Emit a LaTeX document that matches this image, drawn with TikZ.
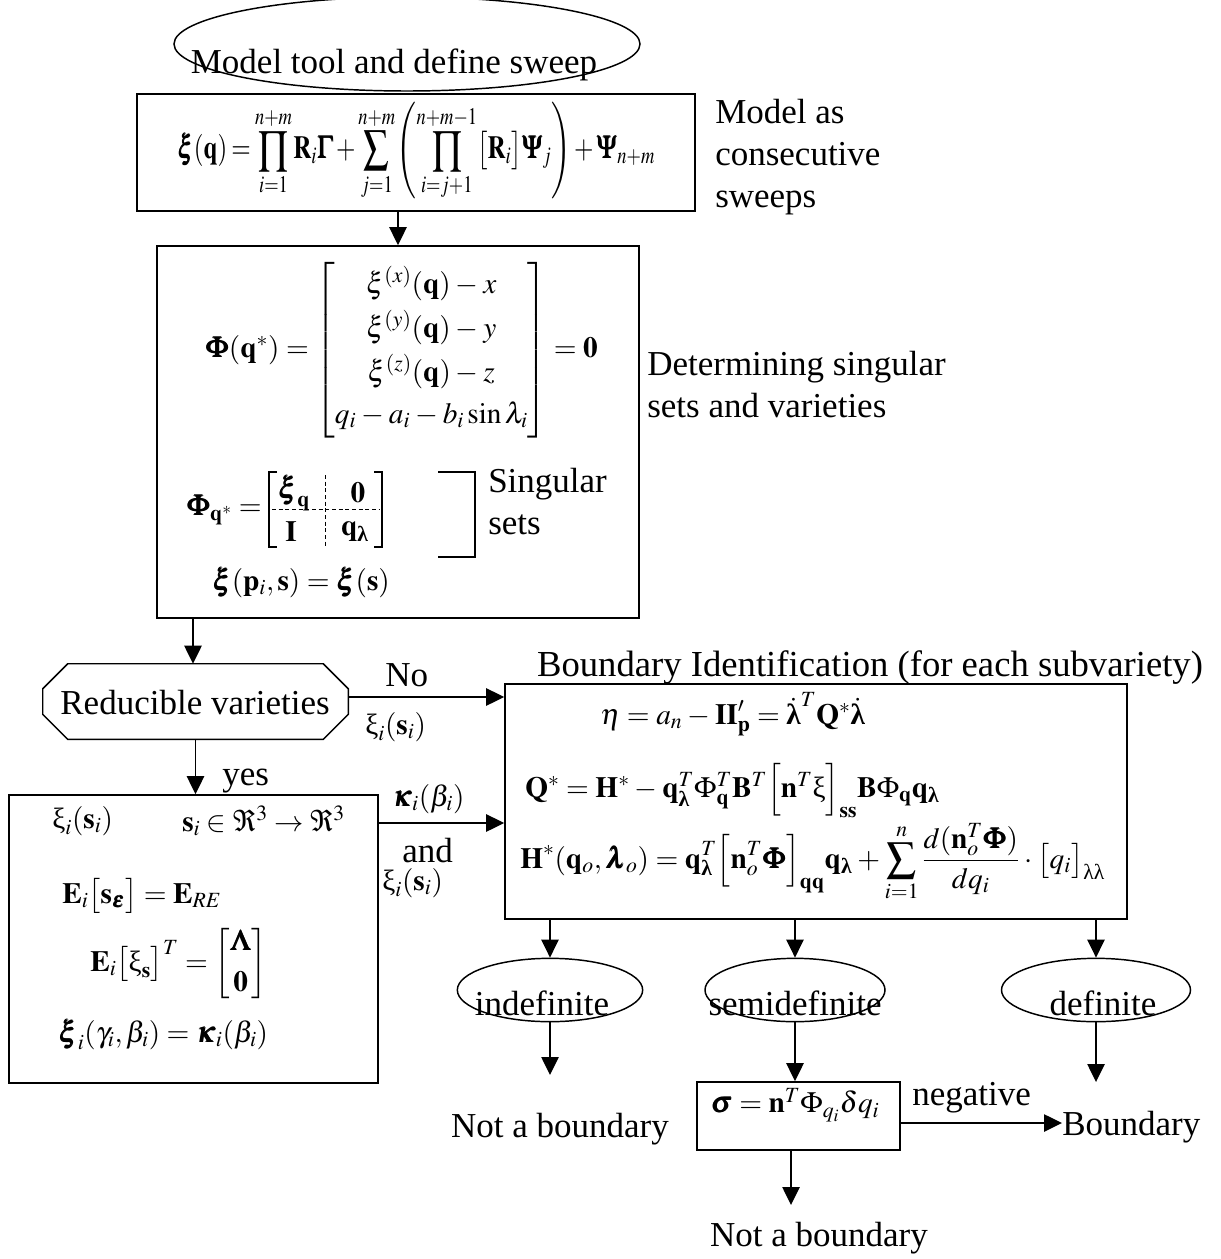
\documentclass[tikz,border=0pt]{standalone}
\usepackage{amsmath}
\usepackage{mathptmx}
\usepackage{bm}
\usepackage{graphicx}
\usepackage[no-math]{fontspec}
\setmainfont{Liberation Serif}
\usetikzlibrary{arrows.meta,shapes.geometric,fit,calc}
\newcommand{\uxi}{\text{ξ}}
\newcommand{\blam}{\text{\bfseries λ}}
\newcommand{\tightmath}{\medmuskip=3mu\relax\thickmuskip=4mu\relax\thinmuskip=2mu\relax}
\newcommand{\tightermath}{\medmuskip=2mu\relax\thickmuskip=3mu\relax\thinmuskip=1mu\relax}
\begin{document}
\begin{tikzpicture}[x=0.75pt,y=-0.75pt,
  every node/.style={font=\fontsize{26.25}{31.5}\selectfont, inner sep=0pt},
  mth/.style={font=\fontsize{22}{26.4}\selectfont\tightmath},
  frame/.style={draw, line width=1.2pt, inner sep=0pt},
  arr/.style={-{Triangle[length=13.5pt,width=13pt]}, line width=1.1pt},
  lbl/.style={anchor=base},
  lblw/.style={anchor=base west},
  oval/.style={draw, ellipse, line width=1.1pt, inner sep=0pt},
  thin/.style={line width=1.1pt},
  dsh/.style={line width=0.6pt, dash pattern=on 3pt off 2pt}]
\useasboundingbox (0,0) rectangle (1220,1259);

% top ellipse
\node[oval, minimum width=349.5pt, minimum height=70.5pt] (startov) at (407,44) {};
\node[lbl] (start) at (394,74) {Model tool and define sweep};

% box 1
\node[frame, fit={(137,94)(695,211)}] (b1) {};
\node[lblw, font=\fontsize{26.25}{31.5}\selectfont\tightermath] (f1) at (177,159) {\scalebox{0.715}[0.92]{$\displaystyle \bm{\xi}(\mathbf{q}) = \prod_{i=1}^{n+m}\mathbf{R}_i\bm{\Gamma} + \sum_{j=1}^{n+m}\left(\prod_{i=j+1}^{n+m-1}\bigl[\mathbf{R}_i\bigr]\bm{\Psi}_j\right) + \bm{\Psi}_{n+m}$}};
\node[anchor=west, align=left] (t1) at (715,157) {Model as\\consecutive\\sweeps};

% box 2
\node[frame, fit={(157,246)(639,618)}] (b2) {};
\node[anchor=west, mth] (f2) at (205,350) {$\bm{\Phi}(\mathbf{q}^{*}) = \begin{bmatrix} \xi^{(x)}(\mathbf{q}) - x\\[5pt] \xi^{(y)}(\mathbf{q}) - y\\[5pt] \xi^{(z)}(\mathbf{q}) - z\\[5pt] q_i - a_i - b_i\sin\lambda_i \end{bmatrix} = \mathbf{0}$};
\node[anchor=west, align=left] (t2) at (647,385) {Determining singular\\sets and varieties};

% Phi_q* matrix drawn piecewise
\node[anchor=east, mth] (f3) at (262,510) {$\bm{\Phi}_{\mathbf{q}^{*}} =$};
\node[mth] (m11) at (294,493) {$\bm{\xi}_{\mathbf{q}}$};
\node[mth] (m12) at (358,493) {$\mathbf{0}$};
\node[mth] (m21) at (291,532) {$\mathbf{I}$};
\node[mth] (m22) at (355,532) {$\mathbf{q}_{\blam}$};
\draw[thin] (277,472) -- (269,472) -- (269,547) -- (277,547);
\draw[thin] (374,472) -- (382,472) -- (382,547) -- (374,547);
\draw[dsh] (272,509) -- (379,509);
\draw[dsh] (325,475) -- (325,547);

\draw[thin] (438,472) -- (475,472) -- (475,557) -- (438,557);
\node[anchor=west, align=left] (t3) at (488,502) {Singular\\sets};
\node[lblw, mth] (f4) at (212,590) {$\bm{\xi}(\mathbf{p}_i,\mathbf{s}) = \bm{\xi}(\mathbf{s})$};

% octagon
\node[fit={(43,664)(348,739)}] (oct) {};
\draw[thin] ($(oct.north west)+(25,0)$) -- ($(oct.north east)+(-25,0)$) -- ($(oct.north east)+(0,25)$) -- ($(oct.south east)+(0,-25)$) -- ($(oct.south east)+(-25,0)$) -- ($(oct.south west)+(25,0)$) -- ($(oct.south west)+(0,-25)$) -- ($(oct.north west)+(0,25)$) -- cycle;
\node[lbl] (red) at (195,714) {Reducible varieties};

% box 3
\node[frame, fit={(505,684)(1127,919)}] (b3) {};
\node[lbl, font=\fontsize{27.5}{33}\selectfont] (t4) at (870,676) {Boundary Identification (for each subvariety)};
\node[lblw, mth] (f5) at (600,724) {$\eta = a_n - \mathbf{II}'_{\mathbf{p}} = \dot{\blam}^{T}\mathbf{Q}^{*}\dot{\blam}$};
\node[lblw, mth] (f6) at (525,797) {$\mathbf{Q}^{*} = \mathbf{H}^{*} - \mathbf{q}_{\blam}^{T}\Phi_{\mathbf{q}}^{T}\mathbf{B}^{T}\Bigl[\mathbf{n}^{T}\uxi\Bigr]_{\mathbf{ss}}\mathbf{B}\Phi_{\mathbf{q}}\mathbf{q}_{\blam}$};
\node[lblw, mth] (f7) at (520,868) {$\displaystyle \mathbf{H}^{*}(\mathbf{q}_o,\bm{\lambda}_o) = \mathbf{q}_{\blam}^{T}\Bigl[\mathbf{n}_o^{T}\bm{\Phi}\Bigr]_{\mathbf{qq}}\mathbf{q}_{\blam} + \sum_{i=1}^{n}\frac{d(\mathbf{n}_o^{T}\bm{\Phi})}{dq_i}\cdot\bigl[q_i\bigr]_{\text{λλ}}$};

% box 4
\node[frame, fit={(9,795)(378,1083)}] (b4) {};
\node[lblw, mth] (f8) at (52,828) {$\uxi_i(\mathbf{s}_i)$};
\node[lblw, mth] (f9) at (182,831) {$\mathbf{s}_i \in \Re^3 \to \Re^3$};
\node[lblw, mth] (f10) at (62,903) {$\mathbf{E}_i\bigl[\mathbf{s}_{\bm{\epsilon}}\bigr] = \mathbf{E}_{RE}$};
\node[anchor=west, mth] (f11) at (90,964) {$\mathbf{E}_i\bigl[\uxi_{\mathbf{s}}\bigr]^{T} = \begin{bmatrix}\bm{\Lambda}\\[4pt] \mathbf{0}\end{bmatrix}$};
\node[lblw, mth] (f12) at (58,1042) {$\bm{\xi}_i(\gamma_i,\beta_i) = \bm{\kappa}_i(\beta_i)$};

% bottom ellipses
\node[oval, minimum width=139pt, minimum height=47.5pt] (e1) at (550,990) {};
\node[lbl] (e1t) at (542,1015) {indefinite};
\node[oval, minimum width=135pt, minimum height=47.5pt] (e2) at (795,990) {};
\node[lbl] (e2t) at (795,1015) {semidefinite};
\node[oval, minimum width=141.75pt, minimum height=47.5pt] (e3) at (1096,990) {};
\node[lbl] (e3t) at (1103,1015) {definite};

\node[lbl] (nb1) at (560,1137) {Not a boundary};
\node[frame, fit={(697,1082)(900,1150)}] (sig) {};
\node[mth] (sigt) at (795,1105) {$\bm{\sigma} = \mathbf{n}^{T}\Phi_{q_i}\delta q_i$};
\node[lblw] (neg) at (912,1105) {negative};
\node[lblw] (bd) at (1062,1135) {Boundary};
\node[lbl] (nb2) at (819,1246) {Not a boundary};

% labels on connectors
\node[lblw] (no) at (385,686) {No};
\node[lblw, mth] (xs1) at (365,734) {$\uxi_i(\mathbf{s}_i)$};
\node[lblw] (yes) at (222,785) {yes};
\node[lblw, mth] (kap) at (392,806) {$\bm{\kappa}_i(\beta_i)$};
\node[lblw] (and) at (402,862) {and};
\node[lblw, mth] (xs2) at (382,890) {$\uxi_i(\mathbf{s}_i)$};

% connectors
\coordinate (c1) at (398,0);
\coordinate (c2) at (193,0);
\coordinate (c3) at (0,697);
\coordinate (c4) at (0,823);
\coordinate (c5) at (791,0);
\coordinate (c6) at (0,1123);
\coordinate (nb1t) at (550,1075);
\coordinate (bdt) at (1096,1082);
\coordinate (nb2t) at (791,1205);
\draw[arr] (b1.south -| c1) -- (b2.north -| c1);
\draw[arr] (b2.south -| c2) -- (oct.north -| c2);
\draw[arr] (oct.south) -- (b4.north -| oct.south);
\draw[arr] (oct.east |- c3) -- (b3.west |- c3);
\draw[arr] (b4.east |- c4) -- (b3.west |- c4);
\draw[arr] (b3.south -| e1) -- (e1.north);
\draw[arr] (b3.south -| e2) -- (e2.north);
\draw[arr] (b3.south -| e3) -- (e3.north);
\draw[arr] (e1.south) -- (nb1t);
\draw[arr] (e2.south) -- (sig.north -| e2.south);
\draw[arr] (e3.south) -- (bdt);
\draw[arr] (sig.south -| c5) -- (nb2t);
\draw[arr] (sig.east |- c6) -- (bd.west |- c6);
\end{tikzpicture}
\end{document}
